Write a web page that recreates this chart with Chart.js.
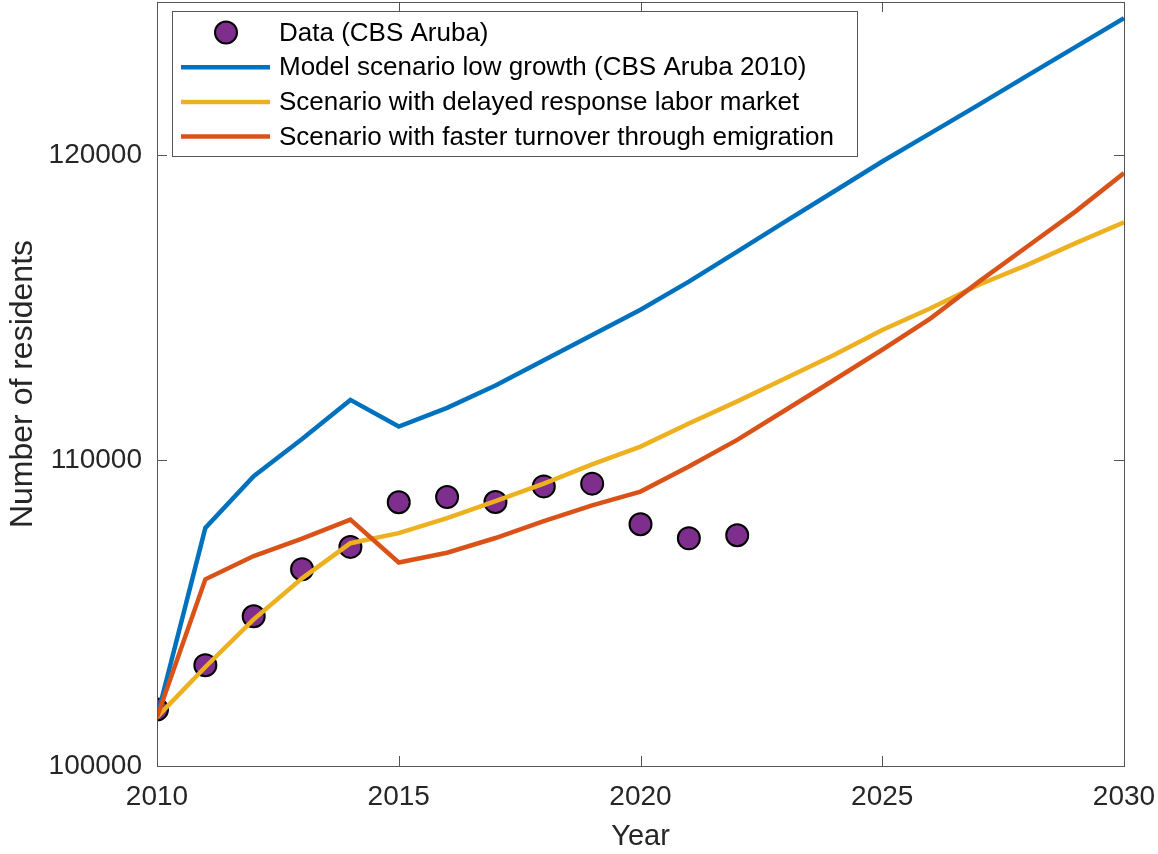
<!DOCTYPE html>
<html>
<head>
<meta charset="utf-8">
<script src="https://cdn.jsdelivr.net/npm/chart.js@4"></script>
<style>
  html, body { margin: 0; padding: 0; background: #fff; }
  #wrap { width: 1158px; height: 854px; overflow: hidden; position: relative; }
  #myChart { position: absolute; left: 0; top: -11px; }
</style>
</head>
<body>
<div id="wrap"><canvas id="myChart" width="1158" height="865"></canvas></div>
<script>
// years on the x axis
const years = [2010, 2011, 2012, 2013, 2014, 2015, 2016, 2017, 2018, 2019, 2020,
               2021, 2022, 2023, 2024, 2025, 2026, 2027, 2028, 2029, 2030];
const dataYears = [2010, 2011, 2012, 2013, 2014, 2015, 2016, 2017, 2018, 2019, 2020, 2021, 2022];

// CBS Aruba observations
const cbsData = [101850, 103300, 104900, 106440, 107170, 108630, 108800, 108640, 109150, 109240, 107910, 107450, 107550];
// model scenarios
const lowGrowth = [101600, 107790, 109480, 110700, 111980, 111110, 111720, 112450, 113280, 114100, 114930,
                   115850, 116830, 117820, 118800, 119780, 120710, 121640, 122590, 123530, 124470];
const delayedResponse = [101600, 103240, 104800, 106140, 107290, 107620, 108110, 108670, 109240, 109870, 110450,
                         111210, 111930, 112690, 113450, 114270, 114980, 115750, 116400, 117110, 117790];
const fasterTurnover = [101600, 106110, 106870, 107440, 108060, 106660, 106980, 107460, 108010, 108530, 108980,
                        109800, 110670, 111650, 112630, 113620, 114650, 115850, 117000, 118150, 119400];

const xTicks = [2010, 2015, 2020, 2025, 2030];
const yTicks = [100000, 110000, 120000];

const FONT = "'Liberation Sans', Arial, Helvetica, sans-serif";
const TXT = '#262626';

const toXY = (xs, ys) => ys.map((v, i) => ({ x: xs[i], y: v }));

// MATLAB style box with inward ticks, plus the legend inside the axes
const axesBox = {
    id: 'axesBox',
    afterDatasetsDraw(chart) {
        const { ctx, chartArea: a, scales } = chart;
        ctx.save();
        ctx.strokeStyle = '#555';
        ctx.lineWidth = 1;
        ctx.strokeRect(Math.round(a.left) + 0.5, Math.round(a.top) + 0.5,
                       Math.round(a.right - a.left), Math.round(a.bottom - a.top));
        ctx.beginPath();
        xTicks.forEach(v => {
            const px = Math.round(scales.x.getPixelForValue(v)) + 0.5;
            ctx.moveTo(px, a.bottom); ctx.lineTo(px, a.bottom - 10);
            ctx.moveTo(px, a.top); ctx.lineTo(px, a.top + 10);
        });
        yTicks.forEach(v => {
            const py = Math.round(scales.y.getPixelForValue(v)) + 0.5;
            ctx.moveTo(a.left, py); ctx.lineTo(a.left + 10, py);
            ctx.moveTo(a.right, py); ctx.lineTo(a.right - 10, py);
        });
        ctx.stroke();
        ctx.restore();
    },
    afterDraw(chart) {
        const ctx = chart.ctx;
        const sets = chart.data.datasets;
        const a = chart.chartArea;
        const bx = 172.5, by = Math.round(a.top) + 9.5;
        ctx.save();
        ctx.fillStyle = '#fff';
        ctx.fillRect(bx, by, 685, 145);
        ctx.strokeStyle = '#555';
        ctx.lineWidth = 1;
        ctx.strokeRect(bx, by, 685, 145);
        ctx.font = '26px ' + FONT;
        ctx.textBaseline = 'middle';
        ctx.textAlign = 'left';
        sets.forEach((ds, i) => {
            const cy = by + 21 + i * 34.7;
            if (ds.showLine === false) {
                ctx.beginPath();
                ctx.arc(226, cy, 11, 0, Math.PI * 2);
                ctx.fillStyle = ds.pointBackgroundColor;
                ctx.fill();
                ctx.lineWidth = 2;
                ctx.strokeStyle = '#000';
                ctx.stroke();
            } else {
                ctx.beginPath();
                ctx.moveTo(181, cy); ctx.lineTo(270, cy);
                ctx.lineWidth = 4.5;
                ctx.strokeStyle = ds.borderColor;
                ctx.stroke();
            }
            ctx.fillStyle = '#000';
            ctx.fillText(ds.label, 279, cy + 1);
        });
        ctx.restore();
    }
};

const ctx = document.getElementById('myChart').getContext('2d');
const chart = new Chart(ctx, {
    type: 'line',
    data: {
        datasets: [{
            label: 'Data (CBS Aruba)',
            data: toXY(dataYears, cbsData),
            showLine: false,
            pointRadius: 11,
            pointBorderWidth: 2,
            pointBackgroundColor: '#7E2F8E',
            pointBorderColor: '#000',
            order: 4
        }, {
            label: 'Model scenario low growth (CBS Aruba 2010)',
            data: toXY(years, lowGrowth),
            borderColor: '#0072BD',
            borderWidth: 4.5,
            pointRadius: 0,
            order: 3
        }, {
            label: 'Scenario with delayed response labor market',
            data: toXY(years, delayedResponse),
            borderColor: '#EDB120',
            borderWidth: 4.5,
            pointRadius: 0,
            order: 2
        }, {
            label: 'Scenario with faster turnover through emigration',
            data: toXY(years, fasterTurnover),
            borderColor: '#D95319',
            borderWidth: 4.5,
            pointRadius: 0,
            order: 1
        }]
    },
    options: {
        responsive: false,
        animation: false,
        layout: { padding: { left: 0, top: 3, right: 34, bottom: 0 } },
        plugins: { legend: { display: false }, tooltip: { enabled: false } },
        scales: {
            x: {
                type: 'linear',
                min: 2010,
                max: 2030,
                afterBuildTicks: s => { s.ticks = xTicks.map(v => ({ value: v })); },
                afterFit: s => { s.height = 88; s.paddingLeft = 0; s.paddingRight = 0; },
                grid: { display: false, drawTicks: false },
                border: { display: false },
                ticks: {
                    font: { family: FONT, size: 28 },
                    color: TXT,
                    padding: 14,
                    maxRotation: 0,
                    autoSkip: false,
                    callback: v => String(v)
                },
                title: {
                    display: true,
                    text: 'Year',
                    font: { family: FONT, size: 29 },
                    color: TXT,
                    padding: { top: 0, bottom: 0 }
                }
            },
            y: {
                min: 100000,
                max: 125000,
                afterBuildTicks: s => { s.ticks = yTicks.map(v => ({ value: v })); },
                afterFit: s => { s.width = 157; s.paddingTop = 0; s.paddingBottom = 0; },
                grid: { display: false, drawTicks: false },
                border: { display: false },
                ticks: {
                    font: { family: FONT, size: 28 },
                    color: TXT,
                    padding: 15,
                    callback: v => String(v)
                },
                title: {
                    display: true,
                    text: 'Number of residents',
                    font: { family: FONT, size: 32 },
                    color: TXT,
                    padding: { top: 4, bottom: 0 }
                }
            }
        }
    },
    plugins: [axesBox]
});
</script>
</body>
</html>
